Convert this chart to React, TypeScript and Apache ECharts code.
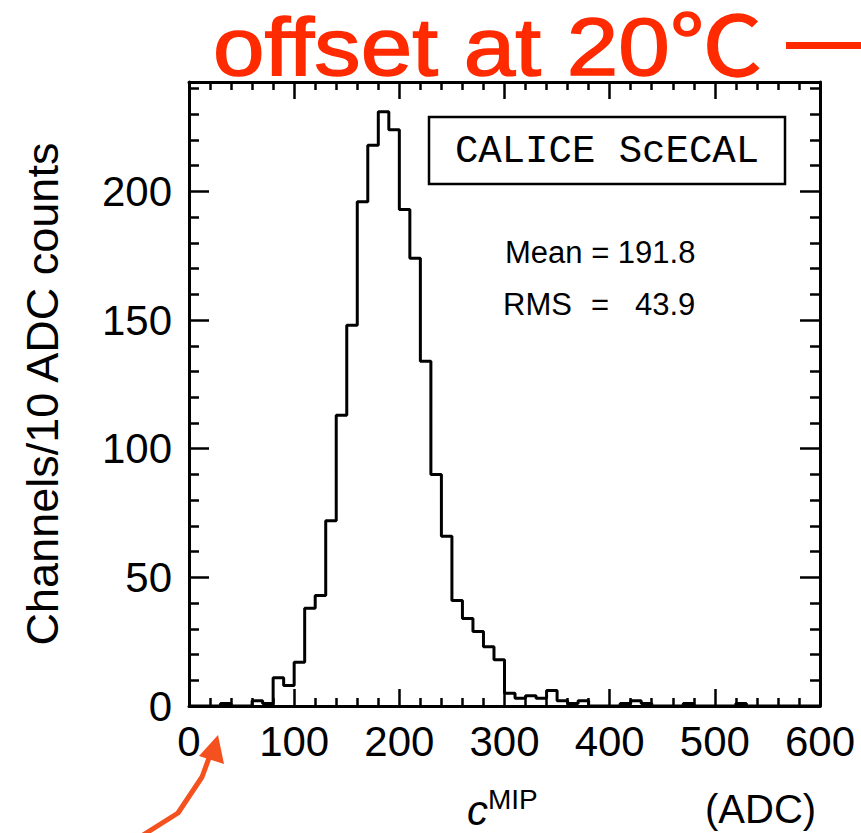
import React, { useEffect, useRef } from "react";
import * as echarts from "echarts";

// Histogram of MIP calibration constants, 10 ADC per bin, 0–600 ADC
const binWidth = 10;
const counts = [
  0, 0, 0, 1, 0, 0, 2, 1, 11, 8,
  17, 38, 43, 72, 113, 148, 196, 218, 231, 224,
  193, 174, 134, 90, 66, 41, 34, 29, 23, 18,
  5, 3, 4, 3, 6, 2, 1, 2, 0, 0,
  0, 1, 2, 1, 0, 0, 0, 1, 0, 0,
  0, 0, 1, 0, 0, 0, 0, 0, 0, 0,
];

const xMin = 0;
const xMax = 600;
const xMajorStep = 100;
const yMax = 242.55;
const yMajorTicks = [0, 50, 100, 150, 200];
const yMinorTicks = [10, 20, 30, 40, 60, 70, 80, 90, 110, 120, 130, 140, 160, 170, 180, 190, 210, 220, 230, 240];

const titleText = "offset at 20℃";
const boxLabel = "CALICE ScECAL";
const meanLabel = "Mean = 191.8";
const rmsParts = ["RMS", "=", "43.9"];
const yTitle = "Channels/10 ADC counts";

const SANS = "'Liberation Sans', Arial, Helvetica, sans-serif";
const RED = "#ff2a00";
const ARROW = "#f4511e";

export default function App() {
  const ref = useRef<HTMLDivElement>(null);

  useEffect(() => {
    const el = ref.current;
    if (!el) return;
    const chart = echarts.init(el, null, { renderer: "svg" });

    const stepData: number[][] = counts.map((c, i) => [i * binWidth, c]);
    stepData.push([counts.length * binWidth, counts[counts.length - 1]]);

    const frameLine = { color: "#000", width: 3 };
    const tickLine = { color: "#000", width: 2.5 };

    const xAxisBase = (position: "top" | "bottom", labels: boolean) => ({
      type: "value" as const,
      min: xMin,
      max: xMax,
      interval: xMajorStep,
      position,
      axisLine: { show: true, onZero: false, lineStyle: frameLine },
      axisTick: { show: true, inside: true, length: 17, lineStyle: tickLine },
      minorTick: { show: true, splitNumber: 5, length: 8, lineStyle: tickLine },
      splitLine: { show: false },
      minorSplitLine: { show: false },
      axisLabel: {
        show: labels,
        margin: 14,
        fontSize: 42,
        color: "#000",
        fontFamily: SANS,
      },
    });

    const yAxisBase = (
      position: "left" | "right",
      ticks: number[],
      len: number,
      labels: boolean,
      line: boolean
    ) => ({
      type: "value" as const,
      min: 0,
      max: yMax,
      position,
      axisLine: { show: line, onZero: false, lineStyle: frameLine },
      axisTick: { show: true, inside: true, length: len, customValues: ticks, lineStyle: tickLine },
      splitLine: { show: false },
      axisLabel: {
        show: labels,
        customValues: ticks,
        margin: 17,
        fontSize: 42,
        color: "#000",
        fontFamily: SANS,
      },
    });

    const leftMajor: any = yAxisBase("left", yMajorTicks, 20, true, true);
    leftMajor.name = yTitle;
    leftMajor.nameLocation = "middle";
    leftMajor.nameGap = 124;
    leftMajor.nameTextStyle = { fontSize: 45, color: "#000", fontFamily: SANS };

    const plainText = (x: number, y: number, text: string, size: number) => ({
      type: "text",
      x,
      y,
      style: { text, fontSize: size, fontFamily: SANS, fill: "#000", verticalAlign: "middle" },
    });

    chart.setOption({
      animation: false,
      backgroundColor: "#fff",
      grid: { left: 189, top: 82, width: 631, height: 624, outerBoundsMode: "none" },
      xAxis: [xAxisBase("bottom", true), xAxisBase("top", false)],
      yAxis: [
        leftMajor,
        yAxisBase("left", yMinorTicks, 10, false, false),
        yAxisBase("right", yMajorTicks, 20, false, true),
        yAxisBase("right", yMinorTicks, 10, false, false),
      ],
      series: [
        {
          type: "line",
          step: "end",
          data: stepData,
          xAxisIndex: 0,
          yAxisIndex: 0,
          symbol: "none",
          lineStyle: { color: "#000", width: 3 },
          z: 5,
        },
      ],
      graphic: [
        // red heading with a trailing rule
        {
          type: "text",
          x: 213,
          y: 47,
          scaleX: 1.13,
          style: {
            text: titleText,
            fontSize: 82,
            fontFamily: "'Liberation Sans', Arial, 'Noto Sans CJK JP', sans-serif",
            fill: RED,
            stroke: RED,
            lineWidth: 1.5,
            verticalAlign: "middle",
          },
        },
        { type: "rect", shape: { x: 786, y: 42, width: 80, height: 7 }, style: { fill: RED } },
        // pointer towards the low end of the x axis
        {
          type: "polyline",
          shape: { points: [[143, 835], [178, 813], [202, 777], [209, 758]] },
          style: { stroke: ARROW, lineWidth: 5, fill: "none", lineJoin: "round" },
        },
        {
          type: "polygon",
          shape: { points: [[218, 735], [199, 756], [224, 764]] },
          style: { fill: ARROW },
        },
        // detector label box
        {
          type: "rect",
          shape: { x: 429, y: 117, width: 356, height: 67 },
          style: { fill: "#fff", stroke: "#000", lineWidth: 2.5 },
          z: 10,
        },
        {
          type: "text",
          x: 607,
          y: 152,
          z: 11,
          style: {
            text: boxLabel,
            fontSize: 39,
            fontFamily: "'Liberation Mono', 'Courier New', monospace",
            fill: "#000",
            align: "center",
            verticalAlign: "middle",
          },
        },
        // statistics
        plainText(505, 252, meanLabel, 31),
        plainText(503, 304, rmsParts[0], 31),
        plainText(591, 304, rmsParts[1], 31),
        plainText(635, 304, rmsParts[2], 31),
        // x-axis title: c^MIP ... (ADC)
        {
          type: "text",
          x: 467,
          y: 810,
          style: {
            text: "c",
            fontSize: 42,
            fontStyle: "italic",
            fontFamily: SANS,
            fill: "#000",
            verticalAlign: "middle",
          },
        },
        plainText(488, 799, "MIP", 28),
        plainText(705, 809, "(ADC)", 40),
      ],
    });

    return () => chart.dispose();
  }, []);

  return (
    <div
      ref={ref}
      style={{ position: "absolute", left: 0, top: 0, width: 861, height: 833 }}
    />
  );
}
